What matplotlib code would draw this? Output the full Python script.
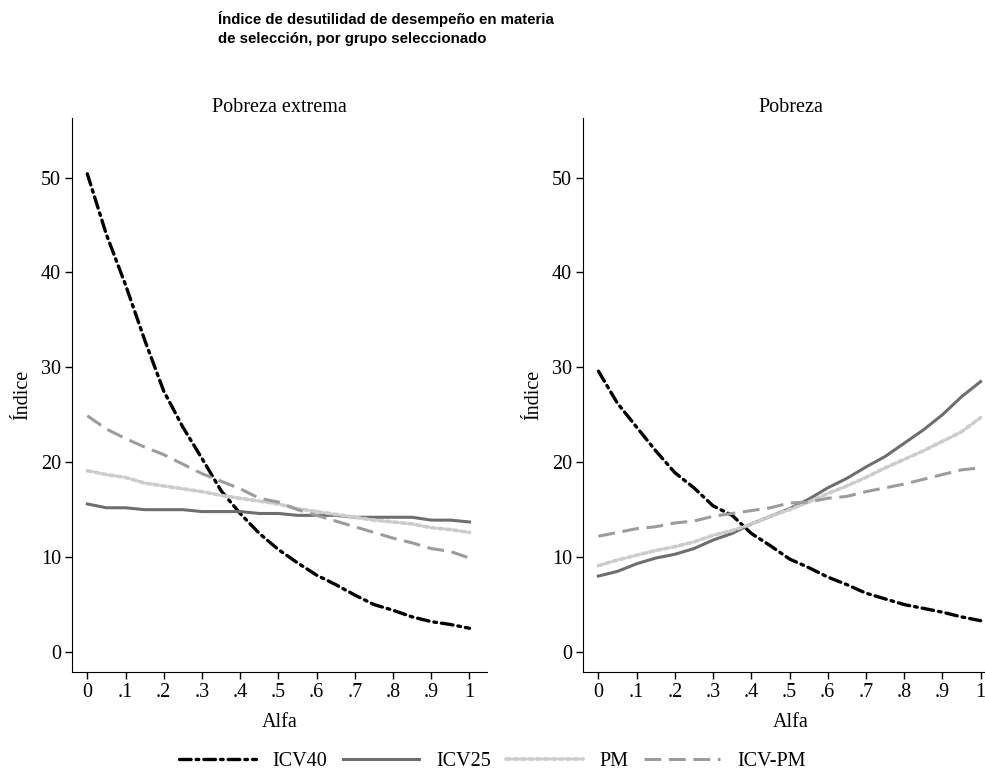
import numpy as np
import matplotlib
matplotlib.use('Agg')
from matplotlib import pyplot as plt

alfa = [0, .05, .1, .15, .2, .25, .3, .35, .4, .45, .5, .55, .6, .65, .7, .75, .8, .85, .9, .95, 1]
xticks = [0, .1, .2, .3, .4, .5, .6, .7, .8, .9, 1]
xticklabels = ['0', '.1', '.2', '.3', '.4', '.5', '.6', '.7', '.8', '.9', '1']

# Pobreza extrema
ext_icv40 = [50.4, 44.0, 38.7, 32.9, 27.5, 23.7, 20.4, 17.0, 14.6, 12.5, 10.8, 9.4, 8.1, 7.1, 6.0, 5.0, 4.4, 3.7, 3.2, 2.9, 2.5]
ext_icv25 = [15.6, 15.2, 15.2, 15.0, 15.0, 15.0, 14.8, 14.8, 14.8, 14.6, 14.6, 14.4, 14.4, 14.4, 14.2, 14.2, 14.2, 14.2, 13.9, 13.9, 13.7]
ext_pm = [19.1, 18.7, 18.4, 17.8, 17.5, 17.2, 16.9, 16.5, 16.2, 15.9, 15.6, 15.1, 14.8, 14.5, 14.2, 13.9, 13.7, 13.5, 13.1, 12.9, 12.6]
ext_icvpm = [24.9, 23.5, 22.5, 21.6, 20.8, 19.8, 18.8, 18.0, 17.2, 16.2, 15.8, 15.0, 14.4, 13.8, 13.2, 12.6, 12.0, 11.5, 10.9, 10.6, 9.9]

# Pobreza
pob_icv40 = [29.6, 26.2, 23.7, 21.2, 18.9, 17.3, 15.4, 14.4, 12.5, 11.2, 9.8, 8.9, 7.9, 7.1, 6.2, 5.6, 5.0, 4.6, 4.2, 3.7, 3.3]
pob_icv25 = [8.0, 8.5, 9.3, 9.9, 10.3, 10.9, 11.8, 12.5, 13.5, 14.3, 15.1, 16.1, 17.3, 18.3, 19.5, 20.6, 22.0, 23.4, 25.0, 26.9, 28.5]
pob_pm = [9.1, 9.7, 10.2, 10.7, 11.1, 11.6, 12.3, 12.8, 13.5, 14.3, 15.0, 15.8, 16.7, 17.5, 18.4, 19.4, 20.3, 21.2, 22.2, 23.2, 24.7]
pob_icvpm = [12.2, 12.6, 13.0, 13.2, 13.6, 13.8, 14.3, 14.6, 14.9, 15.2, 15.7, 15.8, 16.2, 16.4, 16.9, 17.3, 17.7, 18.2, 18.7, 19.2, 19.4]

series_names = ['ICV40', 'ICV25', 'PM', 'ICV-PM']

plt.rcParams['font.family'] = ['Liberation Serif', 'DejaVu Serif']
fs = 14.5

styles = [
    dict(color='black', lw=2.4, dashes=(3.5, 1.5, 0.8, 1.5), dash_capstyle='round'),
    dict(color='#6e6e6e', lw=2.2),
    dict(color='#cccccc', lw=2.6, dashes=(1.2, 0.9), dash_capstyle='round'),
    dict(color='#9c9c9c', lw=2.2, dashes=(5.5, 2.5)),
]

fig = plt.figure(figsize=(9.85, 7.75), dpi=100)
ax1 = fig.add_axes([0.0731, 0.133, 0.421, 0.715])
ax2 = fig.add_axes([0.592, 0.133, 0.421, 0.715])

panels = [(ax1, 'Pobreza extrema', [ext_icv40, ext_icv25, ext_pm, ext_icvpm]),
          (ax2, 'Pobreza', [pob_icv40, pob_icv25, pob_pm, pob_icvpm])]

for ax, title, data in panels:
    for name, vals, st in zip(series_names, data, styles):
        ax.plot(alfa, vals, label=name, **st)
    ax.set_xlim(-0.04, 1.045)
    ax.set_ylim(-2.1, 56.3)
    ax.set_xticks(xticks)
    ax.set_xticklabels(xticklabels)
    ax.set_yticks([0, 10, 20, 30, 40, 50])
    ax.spines['top'].set_visible(False)
    ax.spines['right'].set_visible(False)
    ax.tick_params(labelsize=fs, length=5, width=1, pad=3)
    ax.set_title(title, fontsize=fs, pad=4)
    ax.set_ylabel('Índice', fontsize=fs, labelpad=6)
    ax.set_xlabel('Alfa', fontsize=fs, labelpad=8)

fig.text(0.221, 0.986, 'Índice de desutilidad de desempeño en materia\nde selección, por grupo seleccionado',
         family=['Liberation Sans', 'DejaVu Sans'], fontweight='bold', fontsize=10.8,
         ha='left', va='top', linespacing=1.45)

handles, labels = ax1.get_legend_handles_labels()
fig.legend(handles, labels, loc='lower center', bbox_to_anchor=(0.5, -0.018), ncol=4,
           frameon=False, fontsize=fs, handlelength=3.8, columnspacing=0.75, handletextpad=0.85)

fig.savefig('out.png', dpi=100)
